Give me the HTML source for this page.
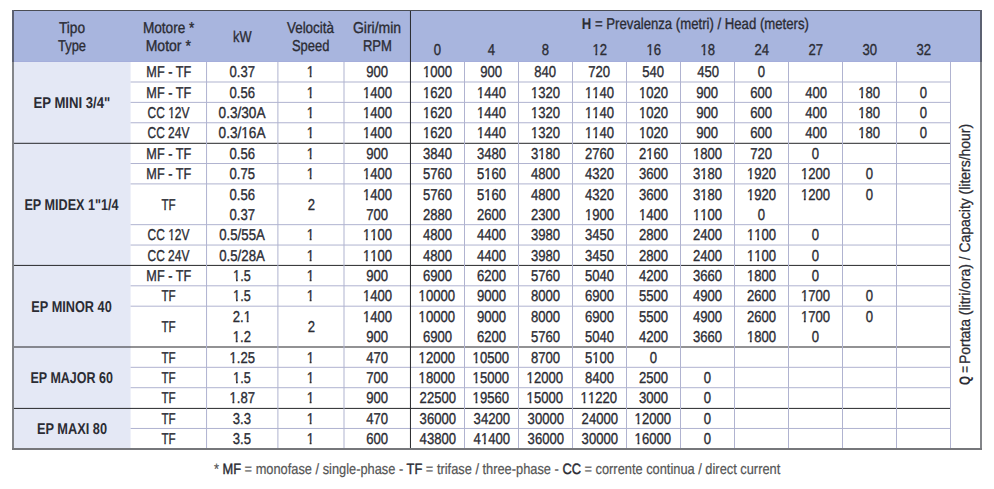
<!DOCTYPE html>
<html><head><meta charset="utf-8"><style>
html,body{margin:0;padding:0;background:#fff;}
#w{text-rendering:geometricPrecision;position:relative;width:994px;height:489px;overflow:hidden;background:#fff;font-family:"Liberation Sans",sans-serif;}
svg{position:absolute;left:0;top:0;}
.t{position:absolute;width:300px;text-align:center;font-size:15.7px;line-height:20px;color:#2b2c34;white-space:nowrap;-webkit-text-stroke:0.35px #2b2c34;}
.t span,.q span,.f span{display:inline-block;transform-origin:50% 50%;}
.b{font-weight:bold;-webkit-text-stroke:0;}
.o{font-style:normal;display:inline-block;clip-path:polygon(0 0,100% 0,100% 11.5px,5.75px 11.5px,5.75px 100%,3.55px 100%,3.55px 11.5px,0 11.5px);}
.q{position:absolute;height:20px;font-size:15.2px;line-height:20px;color:#2b2c34;-webkit-text-stroke:0.25px #2b2c34;white-space:nowrap;transform:rotate(-90deg);transform-origin:0 0;}
.q span{transform-origin:0 0 !important;}
.q b,.t b{-webkit-text-stroke:0;}
.f{position:absolute;left:0;width:994px;text-align:center;font-size:15px;line-height:20px;color:#555;white-space:nowrap;-webkit-text-stroke:0.2px #555;}
.f b{font-weight:normal;-webkit-text-stroke:0.45px #2b2c34;}
.f b{color:#2b2c34;}
</style></head><body><div id="w">
<svg width="994" height="489" viewBox="0 0 994 489"><rect x="12.95" y="10.45" width="967.65" height="51.55" fill="#a8b5de"/><rect x="12.95" y="62.00" width="117.65" height="386.84" fill="#e4e8f5"/><rect x="12.95" y="61" width="967.65" height="1" fill="#a5aedb"/><rect x="130.60" y="81.50" width="819.90" height="1" fill="#b0b3d0"/><rect x="130.60" y="101.88" width="819.90" height="1" fill="#b0b3d0"/><rect x="130.60" y="122.26" width="819.90" height="1" fill="#b0b3d0"/><rect x="12.95" y="142.80" width="937.55" height="1" fill="#26272b"/><rect x="130.60" y="163.02" width="819.90" height="1" fill="#b0b3d0"/><rect x="130.60" y="183.40" width="819.90" height="1" fill="#b0b3d0"/><rect x="130.60" y="224.16" width="819.90" height="1" fill="#b0b3d0"/><rect x="130.60" y="244.54" width="819.90" height="1" fill="#b0b3d0"/><rect x="12.95" y="264.90" width="937.55" height="1" fill="#26272b"/><rect x="130.60" y="285.30" width="819.90" height="1" fill="#b0b3d0"/><rect x="130.60" y="305.68" width="819.90" height="1" fill="#b0b3d0"/><rect x="12.95" y="346.50" width="937.55" height="1" fill="#26272b"/><rect x="130.60" y="366.82" width="819.90" height="1" fill="#b0b3d0"/><rect x="130.60" y="387.20" width="819.90" height="1" fill="#b0b3d0"/><rect x="12.95" y="407.90" width="937.55" height="1" fill="#26272b"/><rect x="130.60" y="427.96" width="819.90" height="1" fill="#b0b3d0"/><rect x="206.05" y="62.00" width="1" height="386.84" fill="#b0b3d0"/><rect x="277.40" y="62.00" width="1" height="386.84" fill="#b0b3d0"/><rect x="343.50" y="62.00" width="1" height="386.84" fill="#b0b3d0"/><rect x="409.95" y="10.45" width="1" height="438.39" fill="#26272b"/><rect x="464.00" y="62.00" width="1" height="386.84" fill="#b0b3d0"/><rect x="518.00" y="62.00" width="1" height="386.84" fill="#b0b3d0"/><rect x="572.00" y="62.00" width="1" height="386.84" fill="#b0b3d0"/><rect x="626.00" y="62.00" width="1" height="386.84" fill="#b0b3d0"/><rect x="680.00" y="62.00" width="1" height="386.84" fill="#b0b3d0"/><rect x="734.00" y="62.00" width="1" height="386.84" fill="#b0b3d0"/><rect x="788.00" y="62.00" width="1" height="386.84" fill="#b0b3d0"/><rect x="842.00" y="62.00" width="1" height="386.84" fill="#b0b3d0"/><rect x="896.00" y="62.00" width="1" height="386.84" fill="#b0b3d0"/><rect x="950.00" y="62.00" width="1" height="386.84" fill="#b0b3d0"/><rect x="12" y="10" width="970" height="1" fill="#4a4d55"/><rect x="12" y="10" width="2" height="440" fill="#838589"/><rect x="980" y="10" width="2" height="440" fill="#838589"/><rect x="12" y="448" width="970" height="2" fill="#76777b"/><rect x="12" y="10" width="2" height="52" fill="#5c6172"/><rect x="980" y="10" width="2" height="52" fill="#5c6172"/></svg>
<div class="t" style="left:18.30px;top:63.00px;"><span style="transform:scaleX(0.8064)">MF - TF</span></div>
<div class="t" style="left:92.26px;top:63.00px;"><span style="transform:scaleX(0.8352)">0.37</span></div>
<div class="t" style="left:160.79px;top:63.00px;"><span style="transform:scaleX(0.8352)"><i class="o">1</i></span></div>
<div class="t" style="left:227.21px;top:63.00px;"><span style="transform:scaleX(0.8352)">900</span></div>
<div class="t" style="left:287.24px;top:63.00px;"><span style="transform:scaleX(0.8352)"><i class="o">1</i>000</span></div>
<div class="t" style="left:341.49px;top:63.00px;"><span style="transform:scaleX(0.8352)">900</span></div>
<div class="t" style="left:395.49px;top:63.00px;"><span style="transform:scaleX(0.8352)">840</span></div>
<div class="t" style="left:449.42px;top:63.00px;"><span style="transform:scaleX(0.8352)">720</span></div>
<div class="t" style="left:503.49px;top:63.00px;"><span style="transform:scaleX(0.8352)">540</span></div>
<div class="t" style="left:557.62px;top:63.00px;"><span style="transform:scaleX(0.8352)">450</span></div>
<div class="t" style="left:611.47px;top:63.00px;"><span style="transform:scaleX(0.8352)">0</span></div>
<div class="t" style="left:18.30px;top:84.00px;"><span style="transform:scaleX(0.8064)">MF - TF</span></div>
<div class="t" style="left:92.26px;top:84.00px;"><span style="transform:scaleX(0.8352)">0.56</span></div>
<div class="t" style="left:160.79px;top:84.00px;"><span style="transform:scaleX(0.8352)"><i class="o">1</i></span></div>
<div class="t" style="left:226.99px;top:84.00px;"><span style="transform:scaleX(0.8352)"><i class="o">1</i>400</span></div>
<div class="t" style="left:287.24px;top:84.00px;"><span style="transform:scaleX(0.8352)"><i class="o">1</i>620</span></div>
<div class="t" style="left:341.27px;top:84.00px;"><span style="transform:scaleX(0.8352)"><i class="o">1</i>440</span></div>
<div class="t" style="left:395.27px;top:84.00px;"><span style="transform:scaleX(0.8352)"><i class="o">1</i>320</span></div>
<div class="t" style="left:449.30px;top:84.00px;"><span style="transform:scaleX(0.8352)"><i class="o">1</i><i class="o">1</i>40</span></div>
<div class="t" style="left:503.27px;top:84.00px;"><span style="transform:scaleX(0.8352)"><i class="o">1</i>020</span></div>
<div class="t" style="left:557.49px;top:84.00px;"><span style="transform:scaleX(0.8352)">900</span></div>
<div class="t" style="left:611.42px;top:84.00px;"><span style="transform:scaleX(0.8352)">600</span></div>
<div class="t" style="left:665.62px;top:84.00px;"><span style="transform:scaleX(0.8352)">400</span></div>
<div class="t" style="left:719.29px;top:84.00px;"><span style="transform:scaleX(0.8352)"><i class="o">1</i>80</span></div>
<div class="t" style="left:773.47px;top:84.00px;"><span style="transform:scaleX(0.8352)">0</span></div>
<div class="t" style="left:18.34px;top:104.00px;"><span style="transform:scaleX(0.7628)">CC <i class="o">1</i>2V</span></div>
<div class="t" style="left:91.93px;top:104.00px;"><span style="transform:scaleX(0.8667)">0.3/30A</span></div>
<div class="t" style="left:160.79px;top:104.00px;"><span style="transform:scaleX(0.8352)"><i class="o">1</i></span></div>
<div class="t" style="left:226.99px;top:104.00px;"><span style="transform:scaleX(0.8352)"><i class="o">1</i>400</span></div>
<div class="t" style="left:287.24px;top:104.00px;"><span style="transform:scaleX(0.8352)"><i class="o">1</i>620</span></div>
<div class="t" style="left:341.27px;top:104.00px;"><span style="transform:scaleX(0.8352)"><i class="o">1</i>440</span></div>
<div class="t" style="left:395.27px;top:104.00px;"><span style="transform:scaleX(0.8352)"><i class="o">1</i>320</span></div>
<div class="t" style="left:449.30px;top:104.00px;"><span style="transform:scaleX(0.8352)"><i class="o">1</i><i class="o">1</i>40</span></div>
<div class="t" style="left:503.27px;top:104.00px;"><span style="transform:scaleX(0.8352)"><i class="o">1</i>020</span></div>
<div class="t" style="left:557.49px;top:104.00px;"><span style="transform:scaleX(0.8352)">900</span></div>
<div class="t" style="left:611.42px;top:104.00px;"><span style="transform:scaleX(0.8352)">600</span></div>
<div class="t" style="left:665.62px;top:104.00px;"><span style="transform:scaleX(0.8352)">400</span></div>
<div class="t" style="left:719.29px;top:104.00px;"><span style="transform:scaleX(0.8352)"><i class="o">1</i>80</span></div>
<div class="t" style="left:773.47px;top:104.00px;"><span style="transform:scaleX(0.8352)">0</span></div>
<div class="t" style="left:18.34px;top:124.00px;"><span style="transform:scaleX(0.7628)">CC 24V</span></div>
<div class="t" style="left:91.93px;top:124.00px;"><span style="transform:scaleX(0.8667)">0.3/<i class="o">1</i>6A</span></div>
<div class="t" style="left:160.79px;top:124.00px;"><span style="transform:scaleX(0.8352)"><i class="o">1</i></span></div>
<div class="t" style="left:226.99px;top:124.00px;"><span style="transform:scaleX(0.8352)"><i class="o">1</i>400</span></div>
<div class="t" style="left:287.24px;top:124.00px;"><span style="transform:scaleX(0.8352)"><i class="o">1</i>620</span></div>
<div class="t" style="left:341.27px;top:124.00px;"><span style="transform:scaleX(0.8352)"><i class="o">1</i>440</span></div>
<div class="t" style="left:395.27px;top:124.00px;"><span style="transform:scaleX(0.8352)"><i class="o">1</i>320</span></div>
<div class="t" style="left:449.30px;top:124.00px;"><span style="transform:scaleX(0.8352)"><i class="o">1</i><i class="o">1</i>40</span></div>
<div class="t" style="left:503.27px;top:124.00px;"><span style="transform:scaleX(0.8352)"><i class="o">1</i>020</span></div>
<div class="t" style="left:557.49px;top:124.00px;"><span style="transform:scaleX(0.8352)">900</span></div>
<div class="t" style="left:611.42px;top:124.00px;"><span style="transform:scaleX(0.8352)">600</span></div>
<div class="t" style="left:665.62px;top:124.00px;"><span style="transform:scaleX(0.8352)">400</span></div>
<div class="t" style="left:719.29px;top:124.00px;"><span style="transform:scaleX(0.8352)"><i class="o">1</i>80</span></div>
<div class="t" style="left:773.47px;top:124.00px;"><span style="transform:scaleX(0.8352)">0</span></div>
<div class="t b" style="left:-78.18px;top:94.00px;"><span style="transform:scaleX(0.8374)">EP MINI 3/4&quot;</span></div>
<div class="t" style="left:18.30px;top:145.00px;"><span style="transform:scaleX(0.8064)">MF - TF</span></div>
<div class="t" style="left:92.26px;top:145.00px;"><span style="transform:scaleX(0.8352)">0.56</span></div>
<div class="t" style="left:160.79px;top:145.00px;"><span style="transform:scaleX(0.8352)"><i class="o">1</i></span></div>
<div class="t" style="left:227.21px;top:145.00px;"><span style="transform:scaleX(0.8352)">900</span></div>
<div class="t" style="left:287.44px;top:145.00px;"><span style="transform:scaleX(0.8352)">3840</span></div>
<div class="t" style="left:341.46px;top:145.00px;"><span style="transform:scaleX(0.8352)">3480</span></div>
<div class="t" style="left:395.46px;top:145.00px;"><span style="transform:scaleX(0.8352)">3<i class="o">1</i>80</span></div>
<div class="t" style="left:449.40px;top:145.00px;"><span style="transform:scaleX(0.8352)">2760</span></div>
<div class="t" style="left:503.40px;top:145.00px;"><span style="transform:scaleX(0.8352)">2<i class="o">1</i>60</span></div>
<div class="t" style="left:557.27px;top:145.00px;"><span style="transform:scaleX(0.8352)"><i class="o">1</i>800</span></div>
<div class="t" style="left:611.42px;top:145.00px;"><span style="transform:scaleX(0.8352)">720</span></div>
<div class="t" style="left:665.47px;top:145.00px;"><span style="transform:scaleX(0.8352)">0</span></div>
<div class="t" style="left:18.30px;top:165.00px;"><span style="transform:scaleX(0.8064)">MF - TF</span></div>
<div class="t" style="left:92.20px;top:165.00px;"><span style="transform:scaleX(0.8352)">0.75</span></div>
<div class="t" style="left:160.79px;top:165.00px;"><span style="transform:scaleX(0.8352)"><i class="o">1</i></span></div>
<div class="t" style="left:226.99px;top:165.00px;"><span style="transform:scaleX(0.8352)"><i class="o">1</i>400</span></div>
<div class="t" style="left:287.44px;top:165.00px;"><span style="transform:scaleX(0.8352)">5760</span></div>
<div class="t" style="left:341.46px;top:165.00px;"><span style="transform:scaleX(0.8352)">5<i class="o">1</i>60</span></div>
<div class="t" style="left:395.59px;top:165.00px;"><span style="transform:scaleX(0.8352)">4800</span></div>
<div class="t" style="left:449.59px;top:165.00px;"><span style="transform:scaleX(0.8352)">4320</span></div>
<div class="t" style="left:503.46px;top:165.00px;"><span style="transform:scaleX(0.8352)">3600</span></div>
<div class="t" style="left:557.46px;top:165.00px;"><span style="transform:scaleX(0.8352)">3<i class="o">1</i>80</span></div>
<div class="t" style="left:611.27px;top:165.00px;"><span style="transform:scaleX(0.8352)"><i class="o">1</i>920</span></div>
<div class="t" style="left:665.27px;top:165.00px;"><span style="transform:scaleX(0.8352)"><i class="o">1</i>200</span></div>
<div class="t" style="left:719.47px;top:165.00px;"><span style="transform:scaleX(0.8352)">0</span></div>
<div class="t" style="left:18.70px;top:196.00px;"><span style="transform:scaleX(0.7413)">TF</span></div>
<div class="t" style="left:92.26px;top:186.00px;"><span style="transform:scaleX(0.8352)">0.56</span></div>
<div class="t" style="left:160.92px;top:196.00px;"><span style="transform:scaleX(0.8352)">2</span></div>
<div class="t" style="left:226.99px;top:186.00px;"><span style="transform:scaleX(0.8352)"><i class="o">1</i>400</span></div>
<div class="t" style="left:287.44px;top:186.00px;"><span style="transform:scaleX(0.8352)">5760</span></div>
<div class="t" style="left:341.46px;top:186.00px;"><span style="transform:scaleX(0.8352)">5<i class="o">1</i>60</span></div>
<div class="t" style="left:395.59px;top:186.00px;"><span style="transform:scaleX(0.8352)">4800</span></div>
<div class="t" style="left:449.59px;top:186.00px;"><span style="transform:scaleX(0.8352)">4320</span></div>
<div class="t" style="left:503.46px;top:186.00px;"><span style="transform:scaleX(0.8352)">3600</span></div>
<div class="t" style="left:557.46px;top:186.00px;"><span style="transform:scaleX(0.8352)">3<i class="o">1</i>80</span></div>
<div class="t" style="left:611.27px;top:186.00px;"><span style="transform:scaleX(0.8352)"><i class="o">1</i>920</span></div>
<div class="t" style="left:665.27px;top:186.00px;"><span style="transform:scaleX(0.8352)"><i class="o">1</i>200</span></div>
<div class="t" style="left:719.47px;top:186.00px;"><span style="transform:scaleX(0.8352)">0</span></div>
<div class="t" style="left:92.26px;top:206.00px;"><span style="transform:scaleX(0.8352)">0.37</span></div>
<div class="t" style="left:227.15px;top:206.00px;"><span style="transform:scaleX(0.8352)">700</span></div>
<div class="t" style="left:287.37px;top:206.00px;"><span style="transform:scaleX(0.8352)">2880</span></div>
<div class="t" style="left:341.40px;top:206.00px;"><span style="transform:scaleX(0.8352)">2600</span></div>
<div class="t" style="left:395.40px;top:206.00px;"><span style="transform:scaleX(0.8352)">2300</span></div>
<div class="t" style="left:449.27px;top:206.00px;"><span style="transform:scaleX(0.8352)"><i class="o">1</i>900</span></div>
<div class="t" style="left:503.27px;top:206.00px;"><span style="transform:scaleX(0.8352)"><i class="o">1</i>400</span></div>
<div class="t" style="left:557.30px;top:206.00px;"><span style="transform:scaleX(0.8352)"><i class="o">1</i><i class="o">1</i>00</span></div>
<div class="t" style="left:611.47px;top:206.00px;"><span style="transform:scaleX(0.8352)">0</span></div>
<div class="t" style="left:18.34px;top:226.00px;"><span style="transform:scaleX(0.7628)">CC <i class="o">1</i>2V</span></div>
<div class="t" style="left:91.94px;top:226.00px;"><span style="transform:scaleX(0.8450)">0.5/55A</span></div>
<div class="t" style="left:160.79px;top:226.00px;"><span style="transform:scaleX(0.8352)"><i class="o">1</i></span></div>
<div class="t" style="left:227.03px;top:226.00px;"><span style="transform:scaleX(0.8352)"><i class="o">1</i><i class="o">1</i>00</span></div>
<div class="t" style="left:287.57px;top:226.00px;"><span style="transform:scaleX(0.8352)">4800</span></div>
<div class="t" style="left:341.59px;top:226.00px;"><span style="transform:scaleX(0.8352)">4400</span></div>
<div class="t" style="left:395.46px;top:226.00px;"><span style="transform:scaleX(0.8352)">3980</span></div>
<div class="t" style="left:449.46px;top:226.00px;"><span style="transform:scaleX(0.8352)">3450</span></div>
<div class="t" style="left:503.40px;top:226.00px;"><span style="transform:scaleX(0.8352)">2800</span></div>
<div class="t" style="left:557.40px;top:226.00px;"><span style="transform:scaleX(0.8352)">2400</span></div>
<div class="t" style="left:611.30px;top:226.00px;"><span style="transform:scaleX(0.8352)"><i class="o">1</i><i class="o">1</i>00</span></div>
<div class="t" style="left:665.47px;top:226.00px;"><span style="transform:scaleX(0.8352)">0</span></div>
<div class="t" style="left:18.34px;top:247.00px;"><span style="transform:scaleX(0.7628)">CC 24V</span></div>
<div class="t" style="left:91.94px;top:247.00px;"><span style="transform:scaleX(0.8450)">0.5/28A</span></div>
<div class="t" style="left:160.79px;top:247.00px;"><span style="transform:scaleX(0.8352)"><i class="o">1</i></span></div>
<div class="t" style="left:227.03px;top:247.00px;"><span style="transform:scaleX(0.8352)"><i class="o">1</i><i class="o">1</i>00</span></div>
<div class="t" style="left:287.57px;top:247.00px;"><span style="transform:scaleX(0.8352)">4800</span></div>
<div class="t" style="left:341.59px;top:247.00px;"><span style="transform:scaleX(0.8352)">4400</span></div>
<div class="t" style="left:395.46px;top:247.00px;"><span style="transform:scaleX(0.8352)">3980</span></div>
<div class="t" style="left:449.46px;top:247.00px;"><span style="transform:scaleX(0.8352)">3450</span></div>
<div class="t" style="left:503.40px;top:247.00px;"><span style="transform:scaleX(0.8352)">2800</span></div>
<div class="t" style="left:557.40px;top:247.00px;"><span style="transform:scaleX(0.8352)">2400</span></div>
<div class="t" style="left:611.30px;top:247.00px;"><span style="transform:scaleX(0.8352)"><i class="o">1</i><i class="o">1</i>00</span></div>
<div class="t" style="left:665.47px;top:247.00px;"><span style="transform:scaleX(0.8352)">0</span></div>
<div class="t b" style="left:-78.55px;top:196.00px;"><span style="transform:scaleX(0.8050)">EP MIDEX 1&quot;1/4</span></div>
<div class="t" style="left:18.30px;top:267.00px;"><span style="transform:scaleX(0.8064)">MF - TF</span></div>
<div class="t" style="left:92.04px;top:267.00px;"><span style="transform:scaleX(0.8061)"><i class="o">1</i>.5</span></div>
<div class="t" style="left:160.79px;top:267.00px;"><span style="transform:scaleX(0.8352)"><i class="o">1</i></span></div>
<div class="t" style="left:227.21px;top:267.00px;"><span style="transform:scaleX(0.8352)">900</span></div>
<div class="t" style="left:287.37px;top:267.00px;"><span style="transform:scaleX(0.8352)">6900</span></div>
<div class="t" style="left:341.40px;top:267.00px;"><span style="transform:scaleX(0.8352)">6200</span></div>
<div class="t" style="left:395.46px;top:267.00px;"><span style="transform:scaleX(0.8352)">5760</span></div>
<div class="t" style="left:449.46px;top:267.00px;"><span style="transform:scaleX(0.8352)">5040</span></div>
<div class="t" style="left:503.59px;top:267.00px;"><span style="transform:scaleX(0.8352)">4200</span></div>
<div class="t" style="left:557.46px;top:267.00px;"><span style="transform:scaleX(0.8352)">3660</span></div>
<div class="t" style="left:611.27px;top:267.00px;"><span style="transform:scaleX(0.8352)"><i class="o">1</i>800</span></div>
<div class="t" style="left:665.47px;top:267.00px;"><span style="transform:scaleX(0.8352)">0</span></div>
<div class="t" style="left:18.70px;top:287.00px;"><span style="transform:scaleX(0.7413)">TF</span></div>
<div class="t" style="left:92.04px;top:287.00px;"><span style="transform:scaleX(0.8061)"><i class="o">1</i>.5</span></div>
<div class="t" style="left:160.79px;top:287.00px;"><span style="transform:scaleX(0.8352)"><i class="o">1</i></span></div>
<div class="t" style="left:226.99px;top:287.00px;"><span style="transform:scaleX(0.8352)"><i class="o">1</i>400</span></div>
<div class="t" style="left:287.28px;top:287.00px;"><span style="transform:scaleX(0.8352)"><i class="o">1</i>0000</span></div>
<div class="t" style="left:341.46px;top:287.00px;"><span style="transform:scaleX(0.8352)">9000</span></div>
<div class="t" style="left:395.46px;top:287.00px;"><span style="transform:scaleX(0.8352)">8000</span></div>
<div class="t" style="left:449.40px;top:287.00px;"><span style="transform:scaleX(0.8352)">6900</span></div>
<div class="t" style="left:503.46px;top:287.00px;"><span style="transform:scaleX(0.8352)">5500</span></div>
<div class="t" style="left:557.59px;top:287.00px;"><span style="transform:scaleX(0.8352)">4900</span></div>
<div class="t" style="left:611.40px;top:287.00px;"><span style="transform:scaleX(0.8352)">2600</span></div>
<div class="t" style="left:665.27px;top:287.00px;"><span style="transform:scaleX(0.8352)"><i class="o">1</i>700</span></div>
<div class="t" style="left:719.47px;top:287.00px;"><span style="transform:scaleX(0.8352)">0</span></div>
<div class="t" style="left:18.70px;top:318.00px;"><span style="transform:scaleX(0.7413)">TF</span></div>
<div class="t" style="left:92.22px;top:308.00px;"><span style="transform:scaleX(0.8352)">2.<i class="o">1</i></span></div>
<div class="t" style="left:160.92px;top:318.00px;"><span style="transform:scaleX(0.8352)">2</span></div>
<div class="t" style="left:226.99px;top:308.00px;"><span style="transform:scaleX(0.8352)"><i class="o">1</i>400</span></div>
<div class="t" style="left:287.28px;top:308.00px;"><span style="transform:scaleX(0.8352)"><i class="o">1</i>0000</span></div>
<div class="t" style="left:341.46px;top:308.00px;"><span style="transform:scaleX(0.8352)">9000</span></div>
<div class="t" style="left:395.46px;top:308.00px;"><span style="transform:scaleX(0.8352)">8000</span></div>
<div class="t" style="left:449.40px;top:308.00px;"><span style="transform:scaleX(0.8352)">6900</span></div>
<div class="t" style="left:503.46px;top:308.00px;"><span style="transform:scaleX(0.8352)">5500</span></div>
<div class="t" style="left:557.59px;top:308.00px;"><span style="transform:scaleX(0.8352)">4900</span></div>
<div class="t" style="left:611.40px;top:308.00px;"><span style="transform:scaleX(0.8352)">2600</span></div>
<div class="t" style="left:665.27px;top:308.00px;"><span style="transform:scaleX(0.8352)"><i class="o">1</i>700</span></div>
<div class="t" style="left:719.47px;top:308.00px;"><span style="transform:scaleX(0.8352)">0</span></div>
<div class="t" style="left:92.09px;top:328.00px;"><span style="transform:scaleX(0.8352)"><i class="o">1</i>.2</span></div>
<div class="t" style="left:227.21px;top:328.00px;"><span style="transform:scaleX(0.8352)">900</span></div>
<div class="t" style="left:287.37px;top:328.00px;"><span style="transform:scaleX(0.8352)">6900</span></div>
<div class="t" style="left:341.40px;top:328.00px;"><span style="transform:scaleX(0.8352)">6200</span></div>
<div class="t" style="left:395.46px;top:328.00px;"><span style="transform:scaleX(0.8352)">5760</span></div>
<div class="t" style="left:449.46px;top:328.00px;"><span style="transform:scaleX(0.8352)">5040</span></div>
<div class="t" style="left:503.59px;top:328.00px;"><span style="transform:scaleX(0.8352)">4200</span></div>
<div class="t" style="left:557.46px;top:328.00px;"><span style="transform:scaleX(0.8352)">3660</span></div>
<div class="t" style="left:611.27px;top:328.00px;"><span style="transform:scaleX(0.8352)"><i class="o">1</i>800</span></div>
<div class="t" style="left:665.47px;top:328.00px;"><span style="transform:scaleX(0.8352)">0</span></div>
<div class="t b" style="left:-78.37px;top:298.00px;"><span style="transform:scaleX(0.8110)">EP MINOR 40</span></div>
<div class="t" style="left:18.70px;top:349.00px;"><span style="transform:scaleX(0.7413)">TF</span></div>
<div class="t" style="left:92.00px;top:349.00px;"><span style="transform:scaleX(0.8352)"><i class="o">1</i>.25</span></div>
<div class="t" style="left:160.79px;top:349.00px;"><span style="transform:scaleX(0.8352)"><i class="o">1</i></span></div>
<div class="t" style="left:227.34px;top:349.00px;"><span style="transform:scaleX(0.8352)">470</span></div>
<div class="t" style="left:287.28px;top:349.00px;"><span style="transform:scaleX(0.8352)"><i class="o">1</i>2000</span></div>
<div class="t" style="left:341.31px;top:349.00px;"><span style="transform:scaleX(0.8352)"><i class="o">1</i>0500</span></div>
<div class="t" style="left:395.46px;top:349.00px;"><span style="transform:scaleX(0.8352)">8700</span></div>
<div class="t" style="left:449.46px;top:349.00px;"><span style="transform:scaleX(0.8352)">5<i class="o">1</i>00</span></div>
<div class="t" style="left:503.47px;top:349.00px;"><span style="transform:scaleX(0.8352)">0</span></div>
<div class="t" style="left:18.70px;top:369.00px;"><span style="transform:scaleX(0.7413)">TF</span></div>
<div class="t" style="left:92.04px;top:369.00px;"><span style="transform:scaleX(0.8061)"><i class="o">1</i>.5</span></div>
<div class="t" style="left:160.79px;top:369.00px;"><span style="transform:scaleX(0.8352)"><i class="o">1</i></span></div>
<div class="t" style="left:227.15px;top:369.00px;"><span style="transform:scaleX(0.8352)">700</span></div>
<div class="t" style="left:287.28px;top:369.00px;"><span style="transform:scaleX(0.8352)"><i class="o">1</i>8000</span></div>
<div class="t" style="left:341.31px;top:369.00px;"><span style="transform:scaleX(0.8352)"><i class="o">1</i>5000</span></div>
<div class="t" style="left:395.31px;top:369.00px;"><span style="transform:scaleX(0.8352)"><i class="o">1</i>2000</span></div>
<div class="t" style="left:449.46px;top:369.00px;"><span style="transform:scaleX(0.8352)">8400</span></div>
<div class="t" style="left:503.40px;top:369.00px;"><span style="transform:scaleX(0.8352)">2500</span></div>
<div class="t" style="left:557.47px;top:369.00px;"><span style="transform:scaleX(0.8352)">0</span></div>
<div class="t" style="left:18.70px;top:389.00px;"><span style="transform:scaleX(0.7413)">TF</span></div>
<div class="t" style="left:92.07px;top:389.00px;"><span style="transform:scaleX(0.8352)"><i class="o">1</i>.87</span></div>
<div class="t" style="left:160.79px;top:389.00px;"><span style="transform:scaleX(0.8352)"><i class="o">1</i></span></div>
<div class="t" style="left:227.21px;top:389.00px;"><span style="transform:scaleX(0.8352)">900</span></div>
<div class="t" style="left:287.41px;top:389.00px;"><span style="transform:scaleX(0.8352)">22500</span></div>
<div class="t" style="left:341.31px;top:389.00px;"><span style="transform:scaleX(0.8352)"><i class="o">1</i>9560</span></div>
<div class="t" style="left:395.31px;top:389.00px;"><span style="transform:scaleX(0.8352)"><i class="o">1</i>5000</span></div>
<div class="t" style="left:449.28px;top:389.00px;"><span style="transform:scaleX(0.8352)"><i class="o">1</i><i class="o">1</i>220</span></div>
<div class="t" style="left:503.46px;top:389.00px;"><span style="transform:scaleX(0.8352)">3000</span></div>
<div class="t" style="left:557.47px;top:389.00px;"><span style="transform:scaleX(0.8352)">0</span></div>
<div class="t b" style="left:-78.38px;top:369.00px;"><span style="transform:scaleX(0.7976)">EP MAJOR 60</span></div>
<div class="t" style="left:18.70px;top:410.00px;"><span style="transform:scaleX(0.7413)">TF</span></div>
<div class="t" style="left:92.29px;top:410.00px;"><span style="transform:scaleX(0.8352)">3.3</span></div>
<div class="t" style="left:160.79px;top:410.00px;"><span style="transform:scaleX(0.8352)"><i class="o">1</i></span></div>
<div class="t" style="left:227.34px;top:410.00px;"><span style="transform:scaleX(0.8352)">470</span></div>
<div class="t" style="left:287.48px;top:410.00px;"><span style="transform:scaleX(0.8352)">36000</span></div>
<div class="t" style="left:341.50px;top:410.00px;"><span style="transform:scaleX(0.8352)">34200</span></div>
<div class="t" style="left:395.50px;top:410.00px;"><span style="transform:scaleX(0.8352)">30000</span></div>
<div class="t" style="left:449.44px;top:410.00px;"><span style="transform:scaleX(0.8352)">24000</span></div>
<div class="t" style="left:503.31px;top:410.00px;"><span style="transform:scaleX(0.8352)"><i class="o">1</i>2000</span></div>
<div class="t" style="left:557.47px;top:410.00px;"><span style="transform:scaleX(0.8352)">0</span></div>
<div class="t" style="left:18.70px;top:430.00px;"><span style="transform:scaleX(0.7413)">TF</span></div>
<div class="t" style="left:92.22px;top:430.00px;"><span style="transform:scaleX(0.8352)">3.5</span></div>
<div class="t" style="left:160.79px;top:430.00px;"><span style="transform:scaleX(0.8352)"><i class="o">1</i></span></div>
<div class="t" style="left:227.15px;top:430.00px;"><span style="transform:scaleX(0.8352)">600</span></div>
<div class="t" style="left:287.61px;top:430.00px;"><span style="transform:scaleX(0.8352)">43800</span></div>
<div class="t" style="left:341.63px;top:430.00px;"><span style="transform:scaleX(0.8352)">4<i class="o">1</i>400</span></div>
<div class="t" style="left:395.50px;top:430.00px;"><span style="transform:scaleX(0.8352)">36000</span></div>
<div class="t" style="left:449.50px;top:430.00px;"><span style="transform:scaleX(0.8352)">30000</span></div>
<div class="t" style="left:503.31px;top:430.00px;"><span style="transform:scaleX(0.8352)"><i class="o">1</i>6000</span></div>
<div class="t" style="left:557.47px;top:430.00px;"><span style="transform:scaleX(0.8352)">0</span></div>
<div class="t b" style="left:-78.39px;top:420.00px;"><span style="transform:scaleX(0.8130)">EP MAXI 80</span></div>
<div class="t" style="left:-78.10px;top:19.00px;"><span style="transform:scaleX(0.8711)">Tipo</span></div>
<div class="t" style="left:-78.05px;top:37.00px;"><span style="transform:scaleX(0.8220)">Type</span></div>
<div class="t" style="left:18.16px;top:19.00px;"><span style="transform:scaleX(0.8689)">Motore *</span></div>
<div class="t" style="left:18.17px;top:37.00px;"><span style="transform:scaleX(0.8942)">Motor *</span></div>
<div class="t" style="left:91.87px;top:28.00px;"><span style="transform:scaleX(0.8169)">kW</span></div>
<div class="t" style="left:160.90px;top:19.00px;"><span style="transform:scaleX(0.8565)">Velocità</span></div>
<div class="t" style="left:161.02px;top:37.00px;"><span style="transform:scaleX(0.8248)">Speed</span></div>
<div class="t" style="left:227.32px;top:19.00px;"><span style="transform:scaleX(0.8932)">Giri/min</span></div>
<div class="t" style="left:227.24px;top:37.00px;"><span style="transform:scaleX(0.8317)">RPM</span></div>
<div class="t" style="left:287.45px;top:41.00px;"><span style="transform:scaleX(0.8352)">0</span></div>
<div class="t" style="left:341.54px;top:41.00px;"><span style="transform:scaleX(0.8352)">4</span></div>
<div class="t" style="left:395.47px;top:41.00px;"><span style="transform:scaleX(0.8352)">8</span></div>
<div class="t" style="left:449.32px;top:41.00px;"><span style="transform:scaleX(0.8352)"><i class="o">1</i>2</span></div>
<div class="t" style="left:503.32px;top:41.00px;"><span style="transform:scaleX(0.8352)"><i class="o">1</i>6</span></div>
<div class="t" style="left:557.25px;top:41.00px;"><span style="transform:scaleX(0.8352)"><i class="o">1</i>8</span></div>
<div class="t" style="left:611.32px;top:41.00px;"><span style="transform:scaleX(0.8352)">24</span></div>
<div class="t" style="left:665.45px;top:41.00px;"><span style="transform:scaleX(0.8352)">27</span></div>
<div class="t" style="left:719.45px;top:41.00px;"><span style="transform:scaleX(0.8352)">30</span></div>
<div class="t" style="left:773.51px;top:41.00px;"><span style="transform:scaleX(0.8352)">32</span></div>
<div class="t" style="left:395.52px;width:600px;top:15px"><span style="transform:scaleX(0.8388)"><b>H</b> = Prevalenza (metri) / Head (meters)</span></div>
<div class="q" style="left:955.70px;top:385.36px;"><span style="transform:scaleX(0.7644)"><b>Q</b> =</span></div>
<div class="q" style="left:955.70px;top:363.62px;"><span style="transform:scaleX(0.9175)">Portata (litri/ora) / Capacity (liters/hour)</span></div>
<div class="f" style="top:460px;"><span style="transform:scaleX(0.8553)">* <b>MF</b> = monofase / single-phase - <b>TF</b> = trifase / three-phase - <b>CC</b> = corrente continua / direct current</span></div>
</div></body></html>
